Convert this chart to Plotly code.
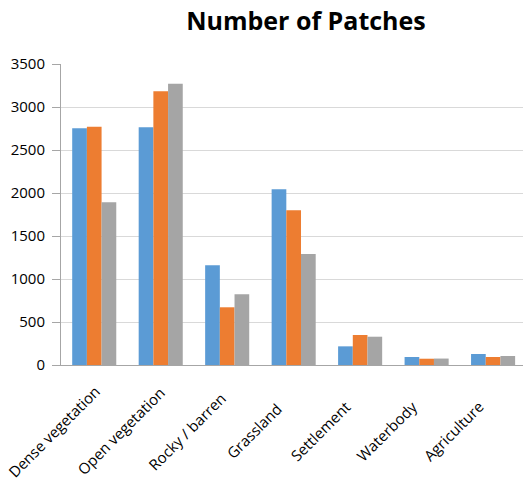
import plotly.graph_objects as go

categories = ["Dense vegetation", "Open vegetation", "Rocky / barren", "Grassland",
              "Settlement", "Waterbody", "Agriculture"]
series1 = [2752, 2764, 1159, 2043, 217, 93, 128]
series2 = [2771, 3182, 671, 1799, 349, 73, 93]
series3 = [1892, 3271, 822, 1291, 329, 75, 105]
series_names = ["Series1", "Series2", "Series3"]
colors = ["#5B9BD5", "#ED7D31", "#A5A5A5"]
y_ticks = [0, 500, 1000, 1500, 2000, 2500, 3000, 3500]

fig = go.Figure()
for name, vals, col in zip(series_names, [series1, series2, series3], colors):
    fig.add_trace(go.Bar(x=categories, y=vals, name=name,
                         marker=dict(color=col, line=dict(width=0))))

font_family = "Open Sans, sans-serif"

# Category labels drawn as rotated annotations (centred like Excel's rotated labels)
for cat in categories:
    fig.add_annotation(x=cat, y=0, xref="x", yref="paper",
                       text=cat, showarrow=False, textangle=-45,
                       xanchor="center", yanchor="middle",
                       xshift=-40, yshift=-66,
                       font=dict(family=font_family, size=15, color="#000000"))

fig.update_layout(
    width=523, height=481,
    margin=dict(l=61, r=0, t=64, b=116),
    paper_bgcolor="white", plot_bgcolor="white",
    barmode="group", bargap=0.337, bargroupgap=0,
    showlegend=False,
    title=dict(text="<b>Number of Patches</b>", x=0.585, xanchor="center",
               y=0.955, yanchor="middle",
               font=dict(family=font_family, size=25, color="#000000")),
    font=dict(family=font_family, size=15, color="#000000"),
)
fig.update_xaxes(
    type="category", range=[-0.5, 6.45], automargin=False,
    showticklabels=False, showgrid=False,
    showline=True, linecolor="#A6A6A6", linewidth=1, ticks="",
)
fig.update_yaxes(
    range=[0, 3500], tickvals=y_ticks, automargin=False,
    showgrid=True, gridcolor="#D9D9D9", gridwidth=1,
    showline=True, linecolor="#A6A6A6", linewidth=1,
    ticks="outside", ticklen=8, tickcolor="#A6A6A6",
    zeroline=False, ticklabelstandoff=4,
    tickfont=dict(family=font_family, size=15, color="#000000"),
)

fig.write_html("out.html",
               config={"displayModeBar": False},
               post_script="document.body.style.margin='0';")
